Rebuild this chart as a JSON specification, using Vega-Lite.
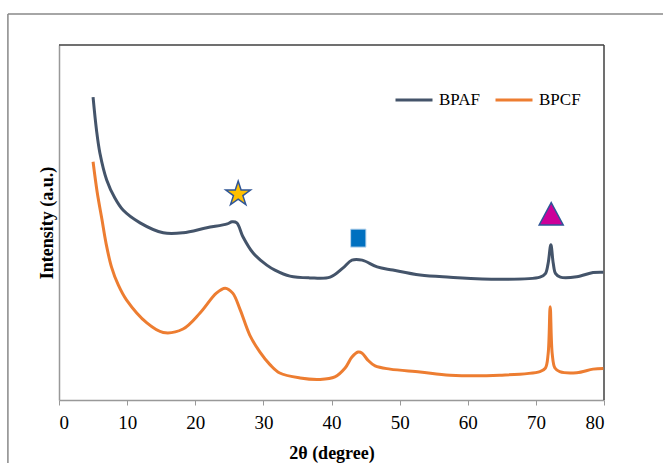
{
  "$schema": "https://vega.github.io/schema/vega-lite/v6.json",
  "width": 545,
  "height": 355,
  "autosize": {"type": "none"},
  "padding": {"left": 59, "top": 45, "right": 59, "bottom": 63},
  "background": "white",
  "config": {
    "view": {"stroke": null},
    "font": "Liberation Serif, Times New Roman, serif",
    "axis": {"grid": false}
  },
  "datasets": {
    "curves": [
      {"x": 5.0, "y": 85.3, "series": "BPAF"},
      {"x": 5.5, "y": 76.1, "series": "BPAF"},
      {"x": 6.0, "y": 69.6, "series": "BPAF"},
      {"x": 7.0, "y": 62.0, "series": "BPAF"},
      {"x": 8.2, "y": 56.9, "series": "BPAF"},
      {"x": 9.4, "y": 53.5, "series": "BPAF"},
      {"x": 11.9, "y": 49.9, "series": "BPAF"},
      {"x": 15.3, "y": 47.1, "series": "BPAF"},
      {"x": 18.2, "y": 47.1, "series": "BPAF"},
      {"x": 21.7, "y": 48.5, "series": "BPAF"},
      {"x": 24.7, "y": 49.6, "series": "BPAF"},
      {"x": 25.4, "y": 50.2, "series": "BPAF"},
      {"x": 26.1, "y": 49.9, "series": "BPAF"},
      {"x": 27.0, "y": 46.0, "series": "BPAF"},
      {"x": 28.5, "y": 41.4, "series": "BPAF"},
      {"x": 30.5, "y": 38.0, "series": "BPAF"},
      {"x": 31.7, "y": 36.6, "series": "BPAF"},
      {"x": 33.9, "y": 34.9, "series": "BPAF"},
      {"x": 36.8, "y": 34.4, "series": "BPAF"},
      {"x": 39.8, "y": 34.6, "series": "BPAF"},
      {"x": 41.7, "y": 37.2, "series": "BPAF"},
      {"x": 43.0, "y": 39.4, "series": "BPAF"},
      {"x": 44.5, "y": 39.4, "series": "BPAF"},
      {"x": 46.7, "y": 37.5, "series": "BPAF"},
      {"x": 49.0, "y": 36.6, "series": "BPAF"},
      {"x": 53.0, "y": 35.2, "series": "BPAF"},
      {"x": 57.4, "y": 34.6, "series": "BPAF"},
      {"x": 64.7, "y": 34.0, "series": "BPAF"},
      {"x": 70.6, "y": 34.6, "series": "BPAF"},
      {"x": 71.4, "y": 35.6, "series": "BPAF"},
      {"x": 71.8, "y": 38.5, "series": "BPAF"},
      {"x": 72.2, "y": 43.7, "series": "BPAF"},
      {"x": 72.55, "y": 38.5, "series": "BPAF"},
      {"x": 72.9, "y": 35.6, "series": "BPAF"},
      {"x": 73.6, "y": 34.6, "series": "BPAF"},
      {"x": 76.0, "y": 34.7, "series": "BPAF"},
      {"x": 78.4, "y": 35.9, "series": "BPAF"},
      {"x": 79.9, "y": 36.0, "series": "BPAF"},
      {"x": 5.0, "y": 67.1, "series": "BPCF"},
      {"x": 5.6, "y": 58.6, "series": "BPCF"},
      {"x": 6.3, "y": 50.9, "series": "BPCF"},
      {"x": 6.9, "y": 44.2, "series": "BPCF"},
      {"x": 7.7, "y": 37.5, "series": "BPCF"},
      {"x": 8.7, "y": 32.4, "series": "BPCF"},
      {"x": 9.9, "y": 28.2, "series": "BPCF"},
      {"x": 12.9, "y": 21.7, "series": "BPCF"},
      {"x": 15.3, "y": 19.0, "series": "BPCF"},
      {"x": 18.2, "y": 20.0, "series": "BPCF"},
      {"x": 20.7, "y": 24.5, "series": "BPCF"},
      {"x": 23.1, "y": 30.1, "series": "BPCF"},
      {"x": 24.4, "y": 31.5, "series": "BPCF"},
      {"x": 25.5, "y": 30.1, "series": "BPCF"},
      {"x": 26.6, "y": 25.4, "series": "BPCF"},
      {"x": 28.0, "y": 18.3, "series": "BPCF"},
      {"x": 29.5, "y": 13.5, "series": "BPCF"},
      {"x": 31.0, "y": 9.9, "series": "BPCF"},
      {"x": 32.4, "y": 7.6, "series": "BPCF"},
      {"x": 35.4, "y": 6.2, "series": "BPCF"},
      {"x": 38.3, "y": 5.8, "series": "BPCF"},
      {"x": 40.5, "y": 6.5, "series": "BPCF"},
      {"x": 42.0, "y": 9.0, "series": "BPCF"},
      {"x": 43.0, "y": 12.1, "series": "BPCF"},
      {"x": 43.9, "y": 13.5, "series": "BPCF"},
      {"x": 44.5, "y": 13.2, "series": "BPCF"},
      {"x": 45.3, "y": 11.3, "series": "BPCF"},
      {"x": 46.4, "y": 9.6, "series": "BPCF"},
      {"x": 48.6, "y": 8.7, "series": "BPCF"},
      {"x": 53.0, "y": 7.9, "series": "BPCF"},
      {"x": 57.4, "y": 7.0, "series": "BPCF"},
      {"x": 64.7, "y": 7.0, "series": "BPCF"},
      {"x": 70.6, "y": 8.0, "series": "BPCF"},
      {"x": 71.4, "y": 9.0, "series": "BPCF"},
      {"x": 71.8, "y": 13.0, "series": "BPCF"},
      {"x": 72.1, "y": 26.3, "series": "BPCF"},
      {"x": 72.4, "y": 13.0, "series": "BPCF"},
      {"x": 72.8, "y": 9.0, "series": "BPCF"},
      {"x": 73.5, "y": 8.0, "series": "BPCF"},
      {"x": 76.0, "y": 7.7, "series": "BPCF"},
      {"x": 78.4, "y": 8.7, "series": "BPCF"},
      {"x": 79.9, "y": 8.9, "series": "BPCF"}
    ],
    "markers": [
      {"x": 26.3, "y": 58.0, "kind": "star"},
      {"x": 43.93, "y": 45.6, "kind": "square"},
      {"x": 72.25, "y": 52.2, "kind": "triangle"}
    ]
  },
  "layer": [
    {
      "data": {"values": [{}]},
      "mark": {"type": "rule", "stroke": "#888888", "strokeWidth": 1.5, "clip": false},
      "encoding": {
        "x": {"datum": -7.5, "type": "quantitative"},
        "y": {"datum": 108.7, "type": "quantitative"},
        "y2": {"datum": -40}
      }
    },
    {
      "data": {"values": [{}]},
      "mark": {"type": "rule", "stroke": "#888888", "strokeWidth": 1.5, "clip": false},
      "encoding": {
        "y": {"datum": 108.7, "type": "quantitative"},
        "x": {"datum": -7.5, "type": "quantitative"},
        "x2": {"datum": 100}
      }
    },
    {
      "data": {"values": [{}]},
      "mark": {"type": "rule", "stroke": "#404040", "strokeWidth": 1.5},
      "encoding": {
        "x": {"datum": 80, "type": "quantitative"}
      }
    },
    {
      "data": {"values": [{}]},
      "mark": {"type": "rule", "stroke": "#404040", "strokeWidth": 1.5},
      "encoding": {
        "y": {"datum": 100, "type": "quantitative"}
      }
    },
    {
      "data": {"name": "curves"},
      "mark": {"type": "line", "strokeWidth": 3, "interpolate": "catmull-rom"},
      "encoding": {
        "x": {
          "field": "x",
          "type": "quantitative",
          "scale": {"domain": [0, 80], "nice": false},
          "axis": {
            "values": [0, 10, 20, 30, 40, 50, 60, 70, 80],
            "title": "2θ (degree)",
            "titleFont": "Liberation Serif, Times New Roman, serif",
            "titleFontSize": 18,
            "titleFontWeight": "bold",
            "titleColor": "black",
            "titlePadding": 12,
            "labelFont": "Liberation Serif, Times New Roman, serif",
            "labelFontSize": 19,
            "labelColor": "black",
            "labelPadding": 8,
            "domainColor": "#999999",
            "domainWidth": 1.5,
            "tickColor": "#999999",
            "tickSize": 5,
            "tickWidth": 1
          }
        },
        "y": {
          "field": "y",
          "type": "quantitative",
          "scale": {"domain": [0, 100], "nice": false},
          "axis": {
            "title": "Intensity (a.u.)",
            "titleFont": "Liberation Serif, Times New Roman, serif",
            "titleFontSize": 18,
            "titleFontWeight": "bold",
            "titleColor": "black",
            "titlePadding": 3,
            "labels": false,
            "ticks": false,
            "domainColor": "#999999",
            "domainWidth": 1.5
          }
        },
        "color": {
          "field": "series",
          "type": "nominal",
          "scale": {"domain": ["BPAF", "BPCF"], "range": ["#44546A", "#ED7D31"]},
          "legend": {
            "title": null,
            "orient": "none",
            "direction": "horizontal",
            "legendX": 335,
            "legendY": 35,
            "symbolType": "stroke",
            "symbolSize": 1369,
            "symbolStrokeWidth": 3,
            "labelFont": "Liberation Serif, Times New Roman, serif",
            "labelFontSize": 17,
            "labelColor": "black",
            "labelOffset": 5,
            "columnPadding": 9
          }
        }
      }
    },
    {
      "data": {"name": "markers"},
      "transform": [{"filter": "datum.kind === 'star'"}],
      "mark": {
        "type": "point",
        "filled": true,
        "shape": "M0,-1L0.2245,-0.309L0.951,-0.309L0.363,0.118L0.588,0.809L0,0.382L-0.588,0.809L-0.363,0.118L-0.951,-0.309L-0.2245,-0.309Z",
        "size": 676,
        "fill": "#FFC000",
        "fillOpacity": 1,
        "stroke": "#2F5597",
        "strokeWidth": 1.5,
        "opacity": 1
      },
      "encoding": {
        "x": {"field": "x", "type": "quantitative"},
        "y": {"field": "y", "type": "quantitative"}
      }
    },
    {
      "data": {"name": "markers"},
      "transform": [{"filter": "datum.kind === 'square'"}],
      "mark": {
        "type": "point",
        "filled": true,
        "shape": "M-0.85,-1H0.85V1H-0.85Z",
        "size": 324,
        "fill": "#0070C0",
        "fillOpacity": 1,
        "stroke": "#BDD7EE",
        "strokeWidth": 1,
        "opacity": 1
      },
      "encoding": {
        "x": {"field": "x", "type": "quantitative"},
        "y": {"field": "y", "type": "quantitative"}
      }
    },
    {
      "data": {"name": "markers"},
      "transform": [{"filter": "datum.kind === 'triangle'"}],
      "mark": {
        "type": "point",
        "filled": true,
        "shape": "M0,-1L1,0.85L-1,0.85Z",
        "size": 576,
        "fill": "#CC0099",
        "fillOpacity": 1,
        "stroke": "#2F5597",
        "strokeWidth": 1.5,
        "opacity": 1
      },
      "encoding": {
        "x": {"field": "x", "type": "quantitative"},
        "y": {"field": "y", "type": "quantitative"}
      }
    }
  ]
}
